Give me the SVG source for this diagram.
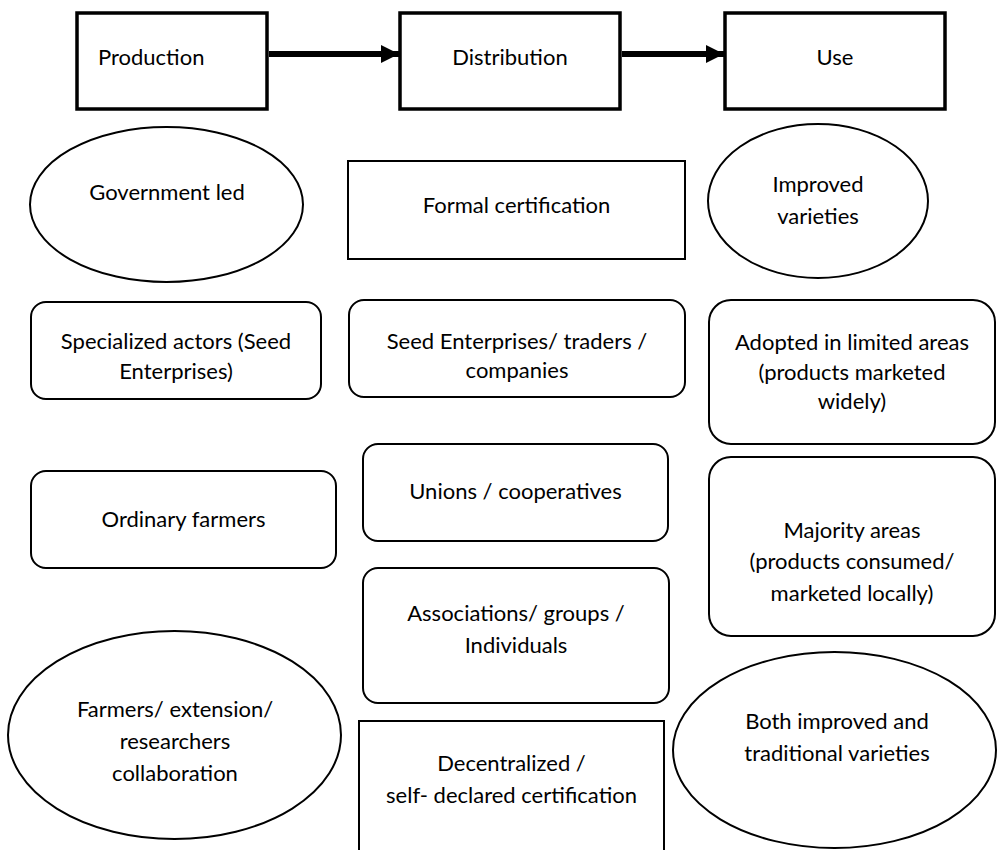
<svg xmlns="http://www.w3.org/2000/svg" width="997" height="850" viewBox="0 0 997 850">
<defs>
<style>
text{font-family:Lato,"Open Sans","Liberation Sans",sans-serif;font-size:22px;fill:#000;text-anchor:middle}
.hdr{fill:#fff;stroke:#000;stroke-width:3.5}
.n{fill:#fff;stroke:#000;stroke-width:2}
.c{stroke:#000;stroke-width:6;fill:none}
</style>
<marker id="ah" viewBox="0 0 10 10" refX="10" refY="5" markerWidth="3" markerHeight="3.2" orient="auto" markerUnits="strokeWidth">
<path d="M0,0 L10,5 L0,10 z" fill="#000"/>
</marker>
</defs>
<rect width="997" height="850" fill="#fff"/>
<g id="production"><rect class="hdr" x="77" y="13" width="190" height="96"/><text x="98" y="65" style="text-anchor:start">Production</text></g>
<g id="distribution"><rect class="hdr" x="400" y="13" width="220" height="96"/><text x="510" y="65">Distribution</text></g>
<g id="use"><rect class="hdr" x="725" y="13" width="220" height="96"/><text x="835" y="65">Use</text></g>
<g id="connectors">
<line class="c" x1="269" y1="54" x2="399" y2="54" marker-end="url(#ah)"/>
<line class="c" x1="622" y1="54" x2="724" y2="54" marker-end="url(#ah)"/>
</g>
<g id="government-led"><ellipse class="n" cx="166.5" cy="204.5" rx="136.5" ry="77.5"/><text x="167" y="200">Government led</text></g>
<g id="formal-certification"><rect class="n" x="348" y="161" width="337" height="98"/><text x="516.5" y="213">Formal certification</text></g>
<g id="improved-varieties"><ellipse class="n" cx="818" cy="201" rx="110" ry="77"/><text x="818" y="192">Improved</text><text x="818" y="224">varieties</text></g>
<g id="specialized-actors"><rect class="n" x="31" y="302" width="290" height="97" rx="15"/><text x="176" y="349">Specialized actors (Seed</text><text x="176" y="379">Enterprises)</text></g>
<g id="seed-enterprises"><rect class="n" x="349" y="300" width="336" height="97" rx="15"/><text x="517" y="349">Seed Enterprises/ traders /</text><text x="517" y="378">companies</text></g>
<g id="adopted-limited"><rect class="n" x="709" y="300" width="286" height="144" rx="22"/><text x="852" y="350">Adopted in limited areas</text><text x="852" y="380">(products marketed</text><text x="852" y="409">widely)</text></g>
<g id="ordinary-farmers"><rect class="n" x="31" y="471" width="305" height="97" rx="15"/><text x="183.5" y="527">Ordinary farmers</text></g>
<g id="unions"><rect class="n" x="363" y="444" width="305" height="97" rx="15"/><text x="515.5" y="499">Unions / cooperatives</text></g>
<g id="majority-areas"><rect class="n" x="709" y="457" width="286" height="179" rx="22"/><text x="852" y="538">Majority areas</text><text x="852" y="569">(products consumed/</text><text x="852" y="601">marketed locally)</text></g>
<g id="associations"><rect class="n" x="363" y="568" width="306" height="135" rx="15"/><text x="516" y="621">Associations/ groups /</text><text x="516" y="653">Individuals</text></g>
<g id="farmers-collaboration"><ellipse class="n" cx="174.5" cy="735" rx="166.5" ry="104"/><text x="175" y="717">Farmers/ extension/</text><text x="175" y="749">researchers</text><text x="175" y="781">collaboration</text></g>
<g id="decentralized"><rect class="n" x="359" y="721" width="305" height="140"/><text x="511.5" y="771">Decentralized /</text><text x="511.5" y="803">self- declared certification</text></g>
<g id="both-varieties"><ellipse class="n" cx="834.5" cy="750" rx="161.5" ry="98"/><text x="837" y="729">Both improved and</text><text x="837" y="761">traditional varieties</text></g>
</svg>
